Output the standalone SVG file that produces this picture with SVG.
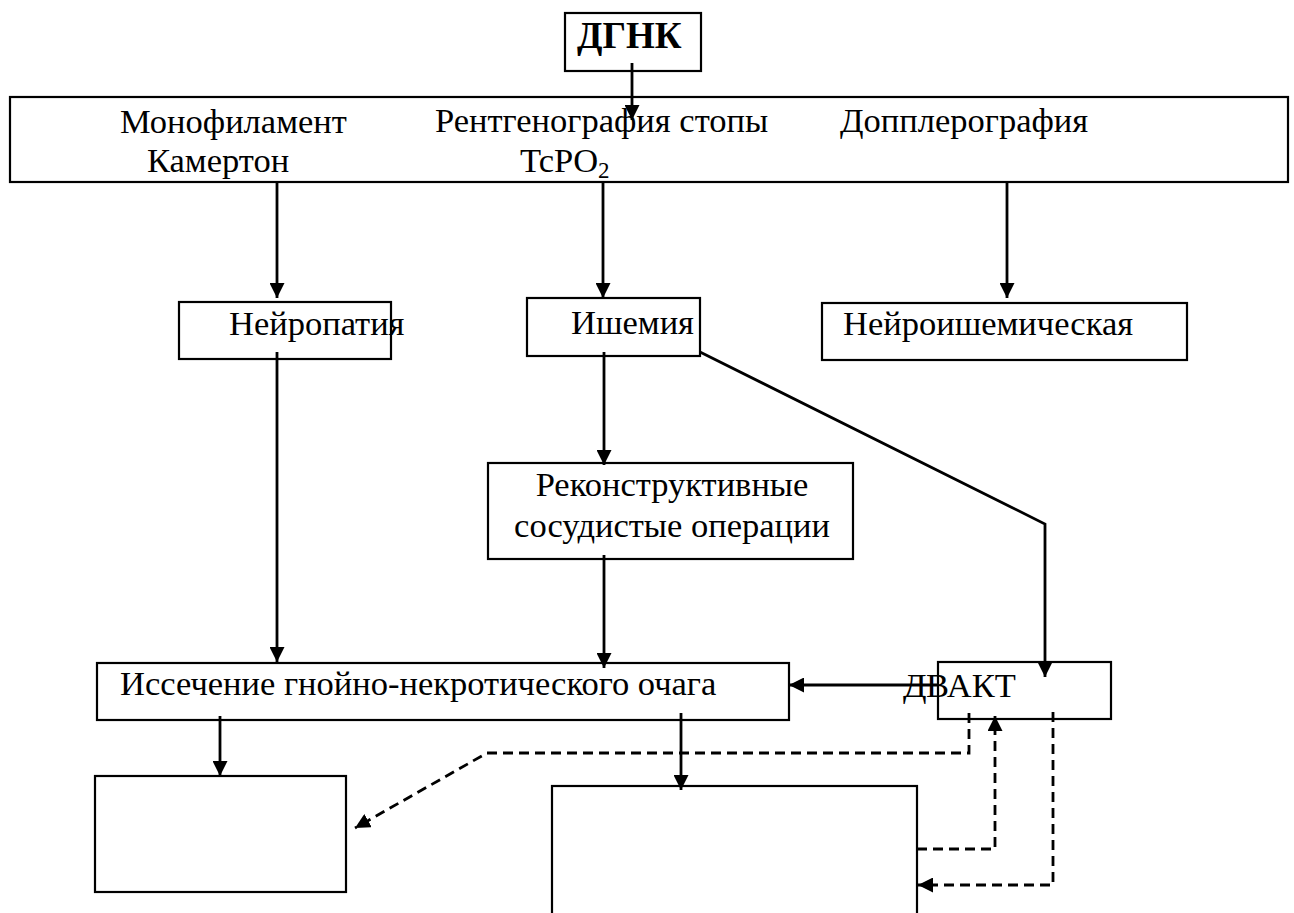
<svg xmlns="http://www.w3.org/2000/svg" width="1294" height="913" viewBox="0 0 1294 913">
<style>
.box{fill:#fff;stroke:#000;stroke-width:2.2}
.t{font-family:"Liberation Serif","Times New Roman",serif;font-size:34.5px;fill:#000}
.b{font-weight:bold;font-size:37px}
.c{fill:none;stroke:#000;stroke-width:2.8}
.d{stroke-dasharray:10,6}
</style>
<defs>
<marker id="ah" markerUnits="userSpaceOnUse" markerWidth="16" markerHeight="15" refX="15" refY="7.5" orient="auto">
<path d="M0,0 L15,7.5 L0,15 z" fill="#000"/>
</marker>
</defs>
<rect width="1294" height="913" fill="#fff"/>
<g id="dgnk"><rect class="box" x="565" y="13" width="136" height="58" stroke-width="2.8"/><text class="t b" x="577" y="48">ДГНК</text></g>
<g id="diagnostics"><rect class="box" x="10" y="97" width="1278" height="85" stroke-width="2.6"/>
<text class="t" x="120" y="133">Монофиламент</text>
<text class="t" x="147" y="172">Камертон</text>
<text class="t" x="435" y="132">Рентгенография стопы</text>
<text class="t" x="520" y="172">TcPO<tspan font-size="23" dy="6">2</tspan></text>
<text class="t" x="840" y="132">Допплерография</text></g>
<g id="neuropathy"><rect class="box" x="179" y="302" width="212" height="57"/><text class="t" x="229" y="335">Нейропатия</text></g>
<g id="ischemia"><rect class="box" x="527" y="298" width="173" height="58"/><text class="t" x="571" y="334">Ишемия</text></g>
<g id="neuroischemic"><rect class="box" x="822" y="303" width="365" height="57"/><text class="t" x="843" y="335">Нейроишемическая</text></g>
<g id="reconstructive"><rect class="box" x="488" y="463" width="365" height="96"/>
<text class="t" x="672" y="496" text-anchor="middle">Реконструктивные</text>
<text class="t" x="672" y="537" text-anchor="middle">сосудистые операции</text></g>
<g id="excision"><rect class="box" x="97" y="663" width="692" height="57"/><text class="t" x="120" y="695">Иссечение гнойно-некротического очага</text></g>
<g id="dvakt"><rect class="box" x="938" y="662" width="173" height="57"/><text class="t" x="903" y="697">Д</text><text class="t" x="926" y="697">ВАКТ</text></g>
<g id="result1"><rect class="box" x="95" y="776" width="251" height="116"/></g>
<g id="result2"><rect class="box" x="552" y="786" width="365" height="160"/></g>
<g id="connectors">
<path class="c" d="M632,63 L632,120" marker-end="url(#ah)"/>
<path class="c" d="M277,182 L277,298" marker-end="url(#ah)"/>
<path class="c" d="M603,182 L603,298" marker-end="url(#ah)"/>
<path class="c" d="M1007,182 L1007,298" marker-end="url(#ah)"/>
<path class="c" d="M277,352 L277,662" marker-end="url(#ah)"/>
<path class="c" d="M604,352 L604,465" marker-end="url(#ah)"/>
<path class="c" d="M604,555 L604,668" marker-end="url(#ah)"/>
<path class="c" d="M700,352 L1045,524 L1045,677" marker-end="url(#ah)"/>
<path class="c" d="M937,685 L789,685" marker-end="url(#ah)"/>
<path class="c" d="M220,716 L220,776" marker-end="url(#ah)"/>
<path class="c" d="M681,713 L681,790" marker-end="url(#ah)"/>
<path class="c d" d="M969,713 L969,753 L487,753 L355,828" marker-end="url(#ah)"/>
<path class="c d" d="M917,849 L995,849 L995,716" marker-end="url(#ah)"/>
<path class="c d" d="M1053,712 L1053,885 L918,885" marker-end="url(#ah)"/>
</g>
</svg>
